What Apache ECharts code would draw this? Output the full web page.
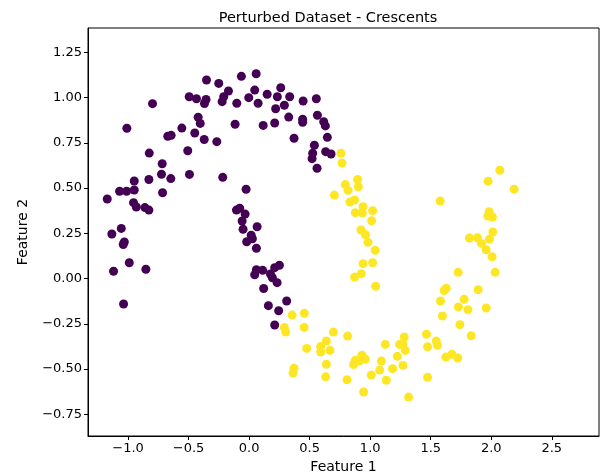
<!DOCTYPE html>
<html>
<head>
<meta charset="utf-8">
<script src="https://cdn.jsdelivr.net/npm/echarts@6/dist/echarts.min.js"></script>
<style>html,body{margin:0;padding:0;background:#fff}#chart{width:601px;height:474px}</style>
</head>
<body>
<div id="chart"></div>
<script>
const titleText = "Perturbed Dataset - Crescents";
const xLabel = "Feature 1";
const yLabel = "Feature 2";
const xTicks = [-1.0, -0.5, 0.0, 0.5, 1.0, 1.5, 2.0, 2.5];
const yTicks = [-0.75, -0.5, -0.25, 0.0, 0.25, 0.5, 0.75, 1.0, 1.25];

const class0X = [-0.352,-0.798,-0.495,-0.435,-0.356,-0.369,-1.010,-0.421,-0.404,-0.556,-0.672,-0.644,-0.449,-0.371,-0.825,-0.507,-0.718,-0.724,-0.647,-0.493,-0.949,-0.828,-0.251,-0.064,0.058,-0.171,-0.210,-0.223,0.046,-0.003,-0.102,0.074,0.149,0.261,0.233,0.335,0.446,0.291,0.219,0.327,0.442,0.442,0.211,0.116,-0.116,-0.267,0.371,-0.218,0.555,0.564,0.616,0.630,0.646,0.539,0.525,0.520,0.632,0.677,0.561,-1.070,-1.012,-0.949,-1.172,-0.715,-0.955,-0.932,-0.861,-0.828,-1.056,-1.134,-1.031,-1.040,-0.990,-1.120,-0.853,-1.037,-0.025,-0.105,-0.078,-0.033,-0.058,0.066,-0.050,0.017,0.027,-0.020,0.060,0.250,0.211,0.176,0.192,0.231,0.060,0.112,0.046,0.120,0.159,0.310,0.244,0.211];
const class0Y = [1.097,0.966,1.004,0.993,0.989,0.967,0.830,0.891,0.857,0.831,0.786,0.791,0.804,0.768,0.693,0.706,0.634,0.576,0.552,0.575,0.539,0.547,1.078,1.117,1.131,1.036,1.004,0.977,1.041,0.999,0.968,0.968,1.018,1.054,1.004,1.004,0.981,0.957,0.938,0.892,0.880,0.863,0.859,0.846,0.852,0.756,0.775,0.559,0.993,0.902,0.866,0.843,0.780,0.736,0.692,0.662,0.701,0.688,0.609,0.482,0.482,0.489,0.439,0.474,0.419,0.395,0.392,0.378,0.277,0.246,0.202,0.188,0.087,0.040,0.051,-0.141,0.493,0.378,0.388,0.356,0.318,0.286,0.272,0.239,0.220,0.203,0.167,0.073,0.060,0.025,0.004,-0.023,0.049,0.045,0.021,-0.055,-0.150,-0.124,-0.178,-0.257];

const class1X = [0.759,0.767,0.896,0.795,0.817,0.902,0.704,0.833,0.871,0.941,0.877,0.935,1.020,1.012,0.924,0.962,0.982,1.042,0.941,1.020,0.871,0.927,1.045,2.071,1.974,2.189,1.578,1.983,1.972,2.010,2.013,1.820,1.886,1.985,1.919,1.958,2.007,1.727,2.032,1.628,1.611,1.892,0.355,0.456,0.291,0.302,0.454,0.475,0.371,0.363,0.696,0.814,0.638,0.591,0.591,0.668,0.638,0.632,0.809,0.877,0.863,0.932,0.960,0.910,0.946,1.009,1.092,1.078,1.133,1.125,1.185,1.224,1.271,1.281,1.243,1.271,1.290,1.317,1.581,1.776,1.729,1.807,1.958,1.597,1.741,1.465,1.834,1.545,1.556,1.474,1.625,1.675,1.724,1.474];
const class1Y = [0.692,0.638,0.547,0.519,0.487,0.507,0.461,0.423,0.434,0.397,0.364,0.362,0.375,0.319,0.268,0.242,0.200,0.156,0.082,0.087,0.008,0.027,-0.043,0.598,0.538,0.493,0.428,0.369,0.345,0.340,0.257,0.224,0.225,0.217,0.194,0.159,0.120,0.034,0.034,-0.054,-0.066,-0.062,-0.202,-0.192,-0.270,-0.296,-0.270,-0.386,-0.496,-0.522,-0.296,-0.318,-0.345,-0.375,-0.406,-0.397,-0.474,-0.543,-0.559,-0.452,-0.475,-0.424,-0.446,-0.456,-0.627,-0.533,-0.456,-0.506,-0.562,-0.364,-0.498,-0.430,-0.480,-0.323,-0.364,-0.364,-0.397,-0.655,-0.124,-0.115,-0.157,-0.172,-0.163,-0.207,-0.255,-0.308,-0.316,-0.345,-0.369,-0.377,-0.434,-0.419,-0.439,-0.546];

const zip = (xs, ys) => xs.map((x, i) => [x, ys[i]]);
const fmt = (v, d) => v.toFixed(d).replace('-', '\u2212');
const font = "DejaVu Sans";

const chart = echarts.init(document.getElementById('chart'), null, {renderer: 'canvas'});
chart.setOption({
  animation: false,
  backgroundColor: '#ffffff',
  title: {
    text: titleText, left: 323, top: 6, textAlign: 'center',
    textStyle: {fontFamily: font, fontSize: 14.5, fontWeight: 'normal', color: '#000'}
  },
  grid: {left: 88, right: 2, top: 28, bottom: 38, show: true, borderColor: '#000', borderWidth: 1, backgroundColor: 'transparent', outerBoundsMode: 'none', containLabel: false},
  xAxis: {
    type: 'value', min: -1.331, max: 2.89,
    name: xLabel, nameLocation: 'middle', nameGap: 21,
    nameTextStyle: {fontFamily: font, fontSize: 14, color: '#000'},
    axisLine: {show: true, onZero: false, lineStyle: {color: '#000', width: 1}},
    axisTick: {show: true, inside: false, length: 4, lineStyle: {color: '#000'}, customValues: xTicks},
    axisLabel: {fontFamily: font, fontSize: 13, color: '#000', margin: 6, customValues: xTicks, formatter: v => fmt(v, 1)},
    splitLine: {show: false}
  },
  yAxis: {
    type: 'value', min: -0.87, max: 1.384,
    name: yLabel, nameLocation: 'middle', nameGap: 58, nameRotate: 90,
    nameTextStyle: {fontFamily: font, fontSize: 14, color: '#000'},
    axisLine: {show: true, onZero: false, lineStyle: {color: '#000', width: 1}},
    axisTick: {show: true, inside: false, length: 4, lineStyle: {color: '#000'}, customValues: yTicks},
    axisLabel: {fontFamily: font, fontSize: 13, color: '#000', margin: 6, customValues: yTicks, formatter: v => fmt(v, 2)},
    splitLine: {show: false}
  },
  series: [
    {type: 'scatter', data: zip(class0X, class0Y), symbolSize: 9, itemStyle: {color: '#440154', opacity: 1}},
    {type: 'scatter', data: zip(class1X, class1Y), symbolSize: 9, itemStyle: {color: '#fde725', opacity: 1}}
  ]
});
</script>
</body>
</html>
